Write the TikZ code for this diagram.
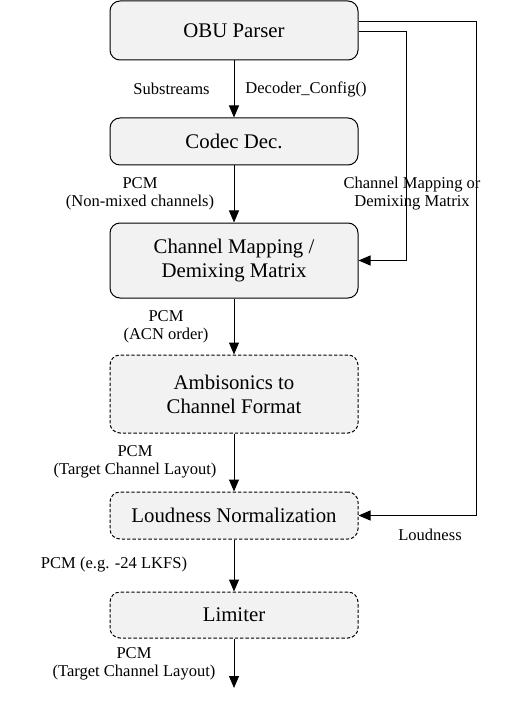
\documentclass[tikz,border=0pt]{standalone}
\usepackage{fontspec}
\setmainfont{Liberation Serif}
\usetikzlibrary{arrows.meta,calc}
\definecolor{boxfill}{HTML}{F2F2F2}
\begin{document}
\begin{tikzpicture}[x=0.75pt,y=-0.75pt,
  blk/.style={draw=black,line width=0.75pt,fill=boxfill,rounded corners=7.5pt,
    minimum width=186pt,align=center,inner sep=0pt,
    font=\fontsize{15.6}{18}\selectfont},
  dblk/.style={blk,dash pattern=on 2.5pt off 1.5pt},
  lbl/.style={align=center,inner sep=0pt,font=\fontsize{12.4}{13.5}\selectfont},
  arr/.style={line width=0.75pt,-{Triangle[width=7.5pt,length=9pt]}},
  ln/.style={line width=0.75pt}]
\useasboundingbox (0,0) rectangle (509,702);
\node[blk,minimum height=44.25pt] (obu) at (234,30.5) {OBU Parser};
\node[blk,minimum height=35.25pt] (codec) at (234,141.5) {Codec Dec.};
\node[blk,minimum height=56.25pt] (chmap) at (234,260.5) {Channel Mapping /\\Demixing Matrix};
\node[dblk,minimum height=58.5pt] (amb) at (234,394) {Ambisonics to\\Channel Format};
\node[dblk,minimum height=35.25pt] (loud) at (234,515.5) {Loudness Normalization};
\node[dblk,minimum height=34.5pt] (lim) at (234,615) {Limiter};
\coordinate (out) at (234,688);
\coordinate (r1) at (406,260.5);
\coordinate (r2) at (476,515.5);

\node[lbl] (substr) at (171.5,89) {Substreams};
\node[lbl] (decconf) at (306,89) {Decoder\_Config()};
\node[lbl] (pcm1) at (140,194) {PCM\\(Non-mixed channels)};
\node[lbl] (cmlbl) at (412,194) {Channel Mapping or\\Demixing Matrix};
\node[lbl] (pcm2) at (166,327) {PCM\\(ACN order)};
\node[lbl] (pcm3) at (135,462) {PCM\\(Target Channel Layout)};
\node[lbl] (loudlbl) at (430,535) {Loudness};
\node[lbl] (pcm4) at (114,565) {PCM (e.g. -24 LKFS)};
\node[lbl] (pcm5) at (134,664) {PCM\\(Target Channel Layout)};

\draw[arr] (obu) -- (codec);
\draw[arr] (codec) -- (chmap);
\draw[arr] (chmap) -- (amb);
\draw[arr] (amb) -- (loud);
\draw[arr] (loud) -- (lim);
\draw[arr] (lim) -- (out);
\draw[arr] ([yshift=-1pt]obu.east) -| (r1) -- (chmap.east);
\draw[arr] ([yshift=7.1pt]obu.east) -| (r2) -- (loud.east);
\end{tikzpicture}
\end{document}
